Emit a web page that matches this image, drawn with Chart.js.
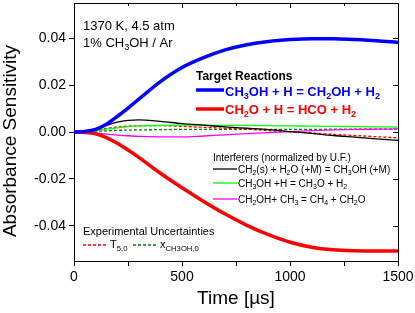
<!DOCTYPE html>
<html>
<head>
<meta charset="utf-8">
<script src="https://cdn.jsdelivr.net/npm/chart.js@4.4.1/dist/chart.umd.min.js"></script>
<style>
  html, body { margin: 0; padding: 0; background: #fff; }
  #wrap { width: 415px; height: 313px; position: relative; }
</style>
</head>
<body>
<div id="wrap"><canvas id="chart"></canvas></div>
<script>
// time axis (µs)
const TIMES = [0, 50, 100, 150, 200, 250, 300, 400, 500, 600, 700, 800, 900, 1000, 1100, 1200, 1300, 1400, 1500];

// target reactions
const CH3OH_H = [0, 0.0002, 0.0011, 0.0033, 0.0066, 0.0102, 0.014, 0.0215, 0.0275, 0.0317, 0.035, 0.0372, 0.0386, 0.0394, 0.0398, 0.0398, 0.0394, 0.0389, 0.0382];
const CH2O_H = [0, -0.0002, -0.0008, -0.0024, -0.0048, -0.0077, -0.0108, -0.0176, -0.0238, -0.0296, -0.035, -0.0398, -0.0438, -0.047, -0.0491, -0.0502, -0.0506, -0.0507, -0.0507];

// interferers
const CH2S_H2O = [0, 0.0002, 0.0012, 0.0028, 0.0042, 0.005, 0.0052, 0.0045, 0.0036, 0.0029, 0.0022, 0.0016, 0.001, 0.0002, -0.0006, -0.0015, -0.0022, -0.0029, -0.0036];
const CH3OH_H_CH3O = [0, 0.0001, 0.0005, 0.0012, 0.0018, 0.0023, 0.0026, 0.0028, 0.0029, 0.0029, 0.0028, 0.0028, 0.0027, 0.0026, 0.0025, 0.0024, 0.0023, 0.0022, 0.0021];
const CH2OH_CH3 = [0, -0.0001, -0.0004, -0.0009, -0.0013, -0.0016, -0.0019, -0.0021, -0.0021, -0.0017, -0.0012, -0.0007, -0.0003, 0.0002, 0.0006, 0.0009, 0.0011, 0.0012, 0.0013];

// experimental uncertainties
const T50 = [0, 0.0002, 0.0008, 0.0015, 0.0021, 0.0025, 0.0027, 0.0027, 0.0024, 0.002, 0.0016, 0.0012, 0.0006, 0.0001, -0.0004, -0.001, -0.0015, -0.002, -0.0025];
const XCH3OH = [0, 0.0001, 0.0003, 0.0005, 0.0007, 0.0008, 0.0009, 0.001, 0.0011, 0.0011, 0.0011, 0.0011, 0.0011, 0.0011, 0.0011, 0.0012, 0.0012, 0.0012, 0.0012];

const X_TICKS = [0, 250, 500, 750, 1000, 1250, 1500];
const X_LABELS = [0, 500, 1000, 1500];
const Y_TICKS = [-0.04, -0.02, 0, 0.02, 0.04];

const FONT = "'Liberation Sans', Arial, sans-serif";

function series(values) {
  return values.map((v, i) => ({ x: TIMES[i], y: v }));
}

function line(label, values, color, width, dash) {
  return {
    label,
    data: series(values),
    borderColor: color,
    borderWidth: width,
    borderDash: dash || [],
    pointRadius: 0,
    fill: false,
    cubicInterpolationMode: "monotone"
  };
}

// text with subscripts: "CH_3OH", "T_{5,0}"
function drawRich(ctx, x, cy, text, size, bold, color) {
  const parts = [];
  let i = 0, buf = "";
  while (i < text.length) {
    if (text[i] === "_") {
      if (buf) parts.push([buf, false]);
      buf = "";
      if (text[i + 1] === "{") {
        const end = text.indexOf("}", i);
        parts.push([text.slice(i + 2, end), true]);
        i = end + 1;
      } else {
        parts.push([text[i + 1], true]);
        i += 2;
      }
    } else {
      buf += text[i++];
    }
  }
  if (buf) parts.push([buf, false]);

  const base = cy + 0.36 * size;
  ctx.fillStyle = color;
  ctx.textBaseline = "alphabetic";
  ctx.textAlign = "left";
  let cx = x;
  parts.forEach(([t, sub]) => {
    const s = sub ? size * 0.7 : size;
    ctx.font = (bold ? "bold " : "") + s + "px " + FONT;
    ctx.fillText(t, cx, sub ? base + size * 0.25 : base);
    cx += ctx.measureText(t).width;
  });
}

function seg(ctx, x1, x2, y, color, width, dash) {
  ctx.save();
  ctx.strokeStyle = color;
  ctx.lineWidth = width;
  ctx.setLineDash(dash || []);
  ctx.beginPath();
  ctx.moveTo(x1, y);
  ctx.lineTo(x2, y);
  ctx.stroke();
  ctx.restore();
}

const decor = {
  id: "decor",
  afterDraw(chart) {
    const ctx = chart.ctx;
    const a = chart.chartArea;
    const xs = chart.scales.x, ys = chart.scales.y;
    ctx.save();

    // frame top / right with inward ticks
    ctx.strokeStyle = "#000";
    ctx.lineWidth = 1;
    ctx.beginPath();
    ctx.moveTo(a.left, a.top + 0.5);
    ctx.lineTo(a.right + 0.5, a.top + 0.5);
    ctx.lineTo(a.right + 0.5, a.bottom);
    X_TICKS.forEach(v => {
      const px = Math.round(xs.getPixelForValue(v)) + 0.5;
      const len = X_LABELS.includes(v) ? 5 : 3;
      ctx.moveTo(px, a.top);
      ctx.lineTo(px, a.top + len);
    });
    Y_TICKS.forEach(v => {
      const py = Math.round(ys.getPixelForValue(v)) + 0.5;
      ctx.moveTo(a.right, py);
      ctx.lineTo(a.right - 5, py);
    });
    ctx.stroke();

    // axis titles
    ctx.fillStyle = "#000";
    ctx.font = "19px " + FONT;
    ctx.textAlign = "center";
    ctx.textBaseline = "middle";
    ctx.fillText("Time [\u00b5s]", (a.left + a.right) / 2, 299);
    ctx.save();
    ctx.translate(11, 141);
    ctx.rotate(-Math.PI / 2);
    ctx.fillText("Absorbance Sensitivity", 0, 0);
    ctx.restore();

    // conditions
    drawRich(ctx, 83, 25, "1370 K, 4.5 atm", 13, false, "#000");
    drawRich(ctx, 83, 42, "1% CH_3OH / Ar", 13, false, "#000");

    // target reactions
    drawRich(ctx, 196, 75.5, "Target Reactions", 12, true, "#000");
    seg(ctx, 196, 224, 90, "#0000ff", 3.5);
    drawRich(ctx, 225, 91, "CH_3OH + H = CH_2OH + H_2", 13, true, "#0000ff");
    seg(ctx, 196, 224, 109, "#ff0000", 3.5);
    drawRich(ctx, 225, 109.5, "CH_2O + H = HCO + H_2", 13, true, "#ff0000");

    // interferers
    drawRich(ctx, 213, 157, "Interferers (normalized by U.F.)", 10, false, "#000");
    seg(ctx, 213, 237, 169, "#000000", 1.3);
    drawRich(ctx, 238, 169, "CH_2(s) + H_2O (+M) = CH_3OH (+M)", 10, false, "#000");
    seg(ctx, 213, 237, 183, "#00ff00", 1.3);
    drawRich(ctx, 238, 183, "CH_3OH +H = CH_3O + H_2", 10, false, "#000");
    seg(ctx, 213, 237, 199, "#ff00ff", 1.3);
    drawRich(ctx, 238, 199, "CH_2OH+ CH_3 = CH_4 + CH_2O", 10, false, "#000");

    // experimental uncertainties
    drawRich(ctx, 83, 231, "Experimental Uncertainties", 11, false, "#000");
    seg(ctx, 83, 107, 245, "#ff0000", 1.3, [3, 2]);
    drawRich(ctx, 110, 244, "T_{5,0}", 11, false, "#000");
    seg(ctx, 133, 157, 245, "#008000", 1.3, [3, 2]);
    drawRich(ctx, 160, 244, "x_{CH3OH,0}", 11, false, "#000");

    ctx.restore();
  }
};

new Chart(document.getElementById("chart"), {
  type: "line",
  data: {
    datasets: [
      line("CH3OH + H = CH2OH + H2", CH3OH_H, "#0000ff", 3.5),
      line("CH2O + H = HCO + H2", CH2O_H, "#ff0000", 3.5),
      line("CH2(s) + H2O (+M) = CH3OH (+M)", CH2S_H2O, "#000000", 1.3),
      line("CH3OH + H = CH3O + H2", CH3OH_H_CH3O, "#00ff00", 1.3),
      line("CH2OH + CH3 = CH4 + CH2O", CH2OH_CH3, "#ff00ff", 1.3),
      line("T5,0", T50, "#ff0000", 1.3, [3, 2]),
      line("xCH3OH,0", XCH3OH, "#008000", 1.3, [3, 2])
    ]
  },
  options: {
    responsive: true,
    maintainAspectRatio: false,
    animation: false,
    layout: { padding: { top: 3, right: 17, left: 0, bottom: 0 } },
    plugins: {
      legend: { display: false },
      tooltip: { enabled: false }
    },
    scales: {
      x: {
        type: "linear",
        min: 0,
        max: 1500,
        afterBuildTicks: s => { s.ticks = X_TICKS.map(v => ({ value: v })); },
        afterFit: s => { s.height = 52; s.paddingLeft = 0; s.paddingRight = 0; },
        border: { display: true, color: "#000", width: 1 },
        grid: { drawOnChartArea: false, drawTicks: true, tickLength: 5, tickColor: "#000" },
        ticks: {
          autoSkip: false,
          maxRotation: 0,
          padding: 3,
          color: "#000",
          font: { family: FONT, size: 14 },
          callback: v => X_LABELS.includes(v) ? String(v) : ""
        }
      },
      y: {
        min: -0.055,
        max: 0.055,
        afterBuildTicks: s => { s.ticks = Y_TICKS.map(v => ({ value: v })); },
        afterFit: s => { s.width = 74; s.paddingTop = 0; s.paddingBottom = 0; },
        border: { display: true, color: "#000", width: 1 },
        grid: { drawOnChartArea: false, drawTicks: true, tickLength: 5, tickColor: "#000" },
        ticks: {
          padding: 3,
          color: "#000",
          font: { family: FONT, size: 14 },
          callback: v => Number(v).toFixed(2)
        }
      }
    }
  },
  plugins: [decor]
});
</script>
</body>
</html>
